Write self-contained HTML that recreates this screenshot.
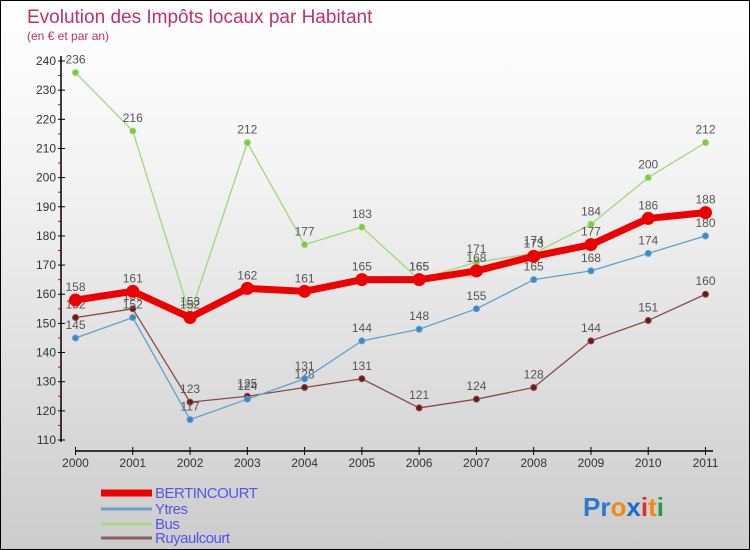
<!DOCTYPE html>
<html><head><meta charset="utf-8"><style>
body{margin:0}
#c{position:relative;width:748px;height:548px;border:1px solid #000;background:linear-gradient(#fff,#f4f4f4 30%,#ccc);font-family:"Liberation Sans",sans-serif;overflow:hidden}
</style></head><body>
<div id="c">
<svg id="s" width="748" height="548"></svg>
</div>
<script>
const years=["2000","2001","2002","2003","2004","2005","2006","2007","2008","2009","2010","2011"];
const bertincourt=[158,161,152,162,161,165,165,168,173,177,186,188];
const ytres=[145,152,117,124,131,144,148,155,165,168,174,180];
const bus=[236,216,153,212,177,183,165,171,174,184,200,212];
const ruyaulcourt=[152,155,123,125,128,131,121,124,128,144,151,160];
const yTicks=[110,120,130,140,150,160,170,180,190,200,210,220,230,240];
const NS="http://www.w3.org/2000/svg";
const s=document.getElementById('s');
function X(i){return 74.5+i*(630/11);}
function Y(v){return 439-(v-110)*(379/130);}
function el(t,a,p){const e=document.createElementNS(NS,t);for(const k in a)e.setAttribute(k,a[k]);(p||s).appendChild(e);return e;}
function tx(x,y,str,a){const e=el('text',Object.assign({x:x,y:y},a));e.textContent=str;return e;}
let t=tx(26,22,"Evolution des Impôts locaux par Habitant",{fill:"#c0306a","font-size":19});

t=tx(26,39,"(en € et par an)",{fill:"#c0306a","font-size":12});

let a=el('line',{x1:60,y1:55,x2:60,y2:441,stroke:"#000","stroke-width":1.5});

a=el('line',{x1:74,y1:450,x2:712,y2:450,stroke:"#000","stroke-width":1.5});

yTicks.forEach((v,i)=>{
  el('line',{x1:57,x2:64,y1:Y(v),y2:Y(v),stroke:"#000"});
  if(i<yTicks.length-1)el('line',{x1:57,x2:59.5,y1:Y(v+5),y2:Y(v+5),stroke:"#e00"});
  const l=tx(55,Y(v)+4,v,{"text-anchor":"end","font-size":12,fill:"#333"});
  
});
years.forEach((y,i)=>{
  el('line',{x1:X(i),x2:X(i),y1:446,y2:454,stroke:"#000"});
  const l=tx(X(i),466,y,{"text-anchor":"middle","font-size":12,fill:"#333"});
  
});
function series(d,color,dot,w,r,name){
  const g=el('g',{});
  
  el('polyline',{points:d.map((v,i)=>X(i)+","+Y(v)).join(" "),fill:"none",stroke:color,"stroke-width":w,"stroke-linejoin":"round"},g);
  d.forEach((v,i)=>{
    const c=el('circle',{cx:X(i),cy:Y(v),r:r,fill:dot,stroke:color,"stroke-width":1},g);
    
    const l=tx(X(i),Y(v)-9,v,{"text-anchor":"middle","font-size":12,fill:"#555"},g);
    
  });
}
series(ruyaulcourt,"#8b4a4a","#6b1a1a",1.3,3,"ruyaulcourt");
series(ytres,"#5fa0d0","#3a8ac8",1.3,3,"ytres");
series(bus,"#9ed87a","#7ccc3a",1.3,3,"bus");
series(bertincourt,"#ee0000","#ee0000",7,6,"bertincourt");
const leg=[["BERTINCOURT","#ee0000",7],["Ytres","#6aa3cc",3],["Bus","#a4d884",3],["Ruyaulcourt","#8b5f5f",3]];
leg.forEach((l,i)=>{
  const y=[492,508,523,537][i];
  const g=el('g',{});
  el('line',{x1:100,x2:151,y1:y,y2:y,stroke:l[1],"stroke-width":l[2]},g);
  tx(154,y+5,l[0],{fill:"#5555ee","font-size":15,"letter-spacing":"-0.5"},g);
});
const lg=el('text',{x:582,y:515,"font-size":26,"font-weight":"bold"});

[["Pr","#2a7ad0"],["o","#f08a10"],["x","#1a6ad0"],["i","#e03020"],["t","#f08a10"],["i","#20a040"]].forEach(p=>{el('tspan',{fill:p[1]},lg).textContent=p[0];});
</script>
</body></html>
